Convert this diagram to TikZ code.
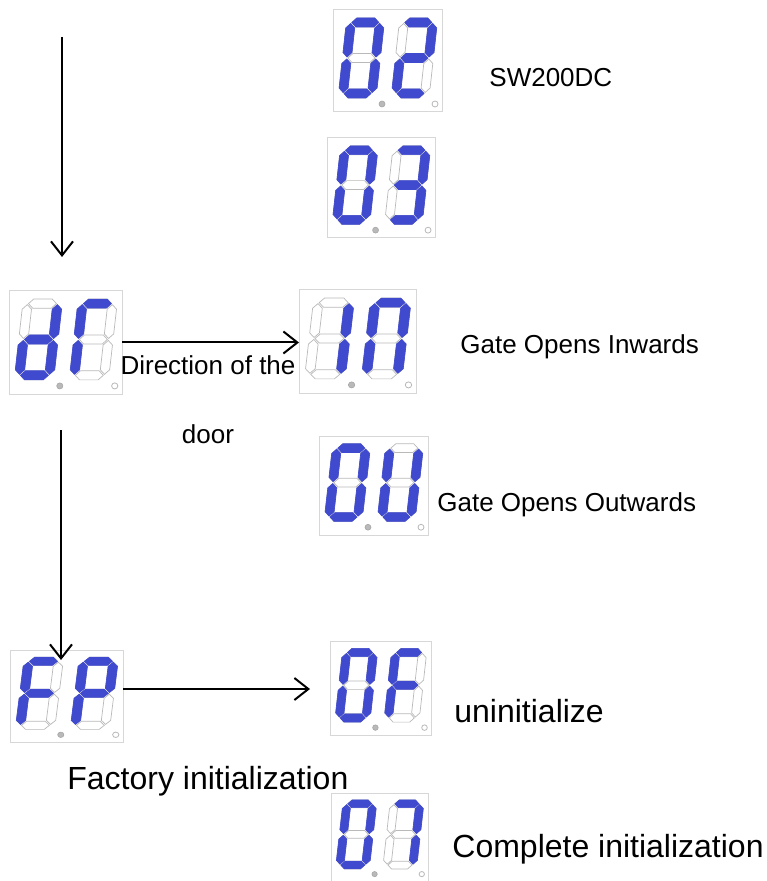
\documentclass[tikz,border=0pt]{standalone}
\usepackage{fontspec}
\setmainfont{Liberation Sans}
\usepackage{xcolor}
\usepackage{tikz}
\usetikzlibrary{arrows.meta}

\definecolor{segblue}{RGB}{64,74,206}
\definecolor{seggray}{RGB}{185,185,185}
\definecolor{boxgray}{RGB}{215,215,215}

% one hexagonal segment, horizontal or vertical (digit units, y up)
\newcommand{\segh}[3]{(#1,#3) -- (#1+4.5,#3+4.5) -- (#2-4.5,#3+4.5) -- (#2,#3) -- (#2-4.5,#3-4.5) -- (#1+4.5,#3-4.5) -- cycle}
\newcommand{\segv}[3]{(#1,#2) -- (#1+4.5,#2+4.5) -- (#1+4.5,#3-4.5) -- (#1,#3) -- (#1-4.5,#3-4.5) -- (#1-4.5,#2+4.5) -- cycle}
\newcommand{\dsega}{\segh{5.5}{32.5}{75.5}}
\newcommand{\dsegb}{\segv{33.5}{41}{74.5}}
\newcommand{\dsegc}{\segv{33.5}{5.5}{39}}
\newcommand{\dsegd}{\segh{5.5}{32.5}{4.5}}
\newcommand{\dsege}{\segv{4.5}{5.5}{39}}
\newcommand{\dsegf}{\segv{4.5}{41}{74.5}}
\newcommand{\dsegg}{\segh{5.5}{32.5}{40}}

% one digit: bottom left corner, lit segments
\newcommand{\digitsegs}[3]{%
  \begin{scope}[shift={(#1,#2)}, yscale=-1, xslant=-0.11]
    \foreach \s in {a,b,c,d,e,f,g}
      \draw[segoff] \csname dseg\s\endcsname;
    \foreach \s in {#3}
      \filldraw[segon] \csname dseg\s\endcsname;
  \end{scope}}

% two digit display: name, left, top, width, height, digit 1, digit 2
\newcommand{\segdisplay}[7]{%
  \node[dispbox, minimum width=#4*0.5pt, minimum height=#5*0.5pt] (#1) at (#2+#4/2, #3+#5/2) {};
  \begin{scope}[shift={(#2,#3)}, xscale=#4/109, yscale=#5/102]
    \digitsegs{5}{88}{#6}
    \digitsegs{58}{88}{#7}
    \filldraw[dotgray] (49,94) circle (3);
    \draw[draw=seggray, line width=0.4pt] (102,94) circle (3);
  \end{scope}}

\begin{document}
\begin{tikzpicture}[x=0.5pt, y=-0.5pt]
  \tikzstyle{dispbox}=[rectangle, draw=boxgray, fill=white, line width=0.5pt, inner sep=0pt, outer sep=0pt]
  \tikzstyle{segon}=[fill=segblue, draw=segblue, line width=0.3pt]
  \tikzstyle{segoff}=[draw=seggray, line width=0.35pt]
  \tikzstyle{dotgray}=[fill=gray!55, draw=gray!70, line width=0.3pt]
  \tikzstyle{flow}=[-{Straight Barb[length=7pt, width=11pt]}, line width=1pt]
  \tikzstyle{note}=[inner sep=0pt, font=\fontsize{13}{15.6}\selectfont]
  \tikzstyle{bignote}=[inner sep=0pt, font=\fontsize{16}{19.2}\selectfont]
  \useasboundingbox (0,0) rectangle (766,881);

  \segdisplay{sw}{333}{10}{109}{102}{a,b,c,d,e,f}{a,b,g,e,d}
  \segdisplay{dc}{327}{138}{108}{100}{a,b,c,d,e,f}{a,b,g,c,d}
  \segdisplay{dir}{9}{291}{113}{103}{b,c,d,e,g}{a,f,e}
  \segdisplay{inw}{299}{290}{117}{103}{b,c}{a,b,c,e,f}
  \segdisplay{outw}{319}{436}{109}{99}{a,b,c,d,e,f}{b,c,d,e,f}
  \segdisplay{fac}{10}{650}{113}{92}{a,f,g,e}{a,b,g,f,e}
  \segdisplay{uninit}{330}{641}{101}{94}{a,b,c,d,e,f}{a,f,g,e}
  \segdisplay{done}{331}{793}{97}{88}{a,b,c,d,e,f}{a,b,c}

  \node[note, anchor=base west] (swlabel) at (489,87) {SW200DC};
  \node[note, anchor=base west] (inlabel) at (460,354) {Gate Opens Inwards};
  \node[note, anchor=north, align=center, font=\fontsize{13}{34.5}\selectfont] (dirlabel) at (208,355) {Direction of the\\door};
  \node[note, anchor=base west] (outlabel) at (437,511) {Gate Opens Outwards};
  \node[bignote, anchor=base west] (unlabel) at (454,722) {uninitialize};
  \node[bignote, anchor=base west] (faclabel) at (67,789) {Factory initialization};
  \node[bignote, anchor=base west] (donelabel) at (452,857) {Complete initialization};

  \coordinate (startarrow) at (62,37);
  \coordinate (endarrow) at (62,257);
  \coordinate (dirdown) at (61,430);
  \coordinate (facout) at (123,689);
  \draw[flow] (startarrow) -- (endarrow);
  \draw[flow] (dir.east) -- (dir.east -| inw.west);
  \draw[flow] (dirdown) -- ([yshift=-5pt]dirdown |- fac.north);
  \draw[flow] (facout) -- ([xshift=-10pt]facout -| uninit.west);
\end{tikzpicture}
\end{document}
